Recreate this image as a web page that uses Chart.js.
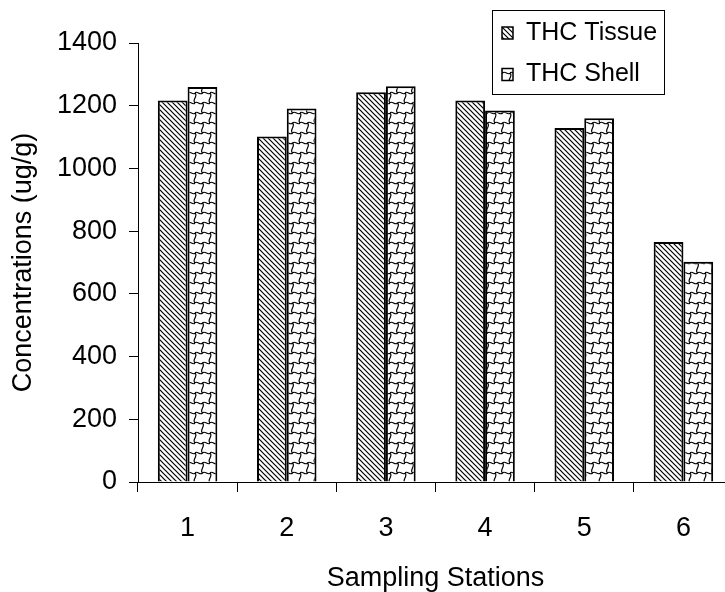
<!DOCTYPE html>
<html>
<head>
<meta charset="utf-8">
<script src="https://cdn.jsdelivr.net/npm/chart.js@4"></script>
<style>
  html, body { margin: 0; padding: 0; background: #fff; overflow: hidden; }
  #wrap { width: 740px; height: 592px; }
</style>
</head>
<body>
<div id="wrap"><canvas id="thcChart" width="740" height="592"></canvas></div>
<script>
const stations = ['1', '2', '3', '4', '5', '6'];
const tissueValues = [1217, 1102, 1243, 1217, 1129, 765];
const shellValues = [1260, 1191, 1262, 1185, 1160, 702];
const seriesNames = ['THC Tissue', 'THC Shell'];

const FONT = "'Liberation Sans', Arial, sans-serif";

// diagonal hatch for tissue
function hatchPattern() {
  const c = document.createElement('canvas');
  c.width = 5; c.height = 5;
  const g = c.getContext('2d');
  g.fillStyle = '#fff';
  g.fillRect(0, 0, 5, 5);
  g.strokeStyle = '#000';
  g.lineWidth = 1.2;
  g.beginPath();
  g.moveTo(-1, -1); g.lineTo(6, 6);
  g.moveTo(-1, 4); g.lineTo(1, 6);
  g.moveTo(4, -1); g.lineTo(6, 1);
  g.stroke();
  return g.createPattern(c, 'repeat');
}

// staggered wavy bricks for shell
function shellPattern() {
  const w = 15, h = 20;
  const c = document.createElement('canvas');
  c.width = w; c.height = h;
  const g = c.getContext('2d');
  g.fillStyle = '#fff';
  g.fillRect(0, 0, w, h);
  g.strokeStyle = '#000';
  g.lineWidth = 1.2;
  g.beginPath();
  // wavy rows, full width
  g.moveTo(0, 3);
  g.bezierCurveTo(2, 0, 5, 6, 7.5, 3);
  g.bezierCurveTo(10, 0, 13, 6, 15, 3);
  g.moveTo(0, 13);
  g.bezierCurveTo(2, 10, 5, 16, 7.5, 13);
  g.bezierCurveTo(10, 10, 13, 16, 15, 13);
  // middle connector
  g.moveTo(7.5, 3);
  g.bezierCurveTo(11, 6, 4, 10, 7.5, 13);
  // edge connectors (wrap)
  g.moveTo(0, 13);
  g.bezierCurveTo(3.5, 16, -3.5, 20, 0, 23);
  g.moveTo(15, 13);
  g.bezierCurveTo(18.5, 16, 11.5, 20, 15, 23);
  g.moveTo(0, -7);
  g.bezierCurveTo(3.5, -4, -3.5, 0, 0, 3);
  g.moveTo(15, -7);
  g.bezierCurveTo(18.5, -4, 11.5, 0, 15, 3);
  g.stroke();
  return g.createPattern(c, 'repeat');
}

const fills = [hatchPattern(), shellPattern()];

const boxLegend = {
  id: 'boxLegend',
  afterDraw(chart) {
    const ctx = chart.ctx;
    ctx.save();
    ctx.strokeStyle = '#000';
    ctx.lineWidth = 1;
    ctx.strokeRect(492.5, 10.5, 172, 84);
    ctx.font = '25px ' + FONT;
    ctx.textBaseline = 'middle';
    chart.data.datasets.forEach((ds, i) => {
      const cy = 33 + i * 41.5;
      ctx.fillStyle = ds.backgroundColor;
      ctx.fillRect(502, cy - 6, 11, 12);
      ctx.lineWidth = 1.5;
      ctx.strokeRect(502, cy - 6, 11, 12);
      ctx.fillStyle = '#000';
      ctx.fillText(ds.label, 526, cy);
    });
    ctx.restore();
  }
};

new Chart(document.getElementById('thcChart'), {
  type: 'bar',
  data: {
    labels: stations,
    datasets: [
      { label: seriesNames[0], data: tissueValues, backgroundColor: fills[0], borderColor: '#000', borderWidth: 2 },
      { label: seriesNames[1], data: shellValues, backgroundColor: fills[1], borderColor: '#000', borderWidth: 2 }
    ]
  },
  options: {
    responsive: false,
    animation: false,
    layout: { padding: { top: 43, right: 7, left: 0, bottom: 0 } },
    datasets: { bar: { categoryPercentage: 0.6, barPercentage: 1.0 } },
    plugins: { legend: { display: false }, tooltip: { enabled: false } },
    scales: {
      x: {
        grid: { display: true, drawOnChartArea: false, offset: true, tickLength: 10, color: '#000' },
        border: { display: true, color: '#000', width: 1 },
        ticks: { color: '#000', padding: 20, font: { family: FONT, size: 27 } },
        title: { display: true, text: 'Sampling Stations', color: '#000', padding: { top: 0, bottom: 0 }, font: { family: FONT, size: 27, lineHeight: 1 } },
        afterFit(scale) { scale.height = 110; }
      },
      y: {
        min: 0,
        max: 1400,
        ticks: { stepSize: 200, color: '#000', padding: 12, font: { family: FONT, size: 27 }, callback: v => String(v) },
        grid: { display: true, drawOnChartArea: false, tickLength: 9, color: '#000' },
        border: { display: true, color: '#000', width: 1 },
        title: { display: true, text: 'Concentrations (ug/g)', color: '#000', padding: { top: 10, bottom: 0 }, font: { family: FONT, size: 27, lineHeight: 1 } },
        afterFit(scale) { scale.width = 138; }
      }
    }
  },
  plugins: [boxLegend]
});
</script>
</body>
</html>
